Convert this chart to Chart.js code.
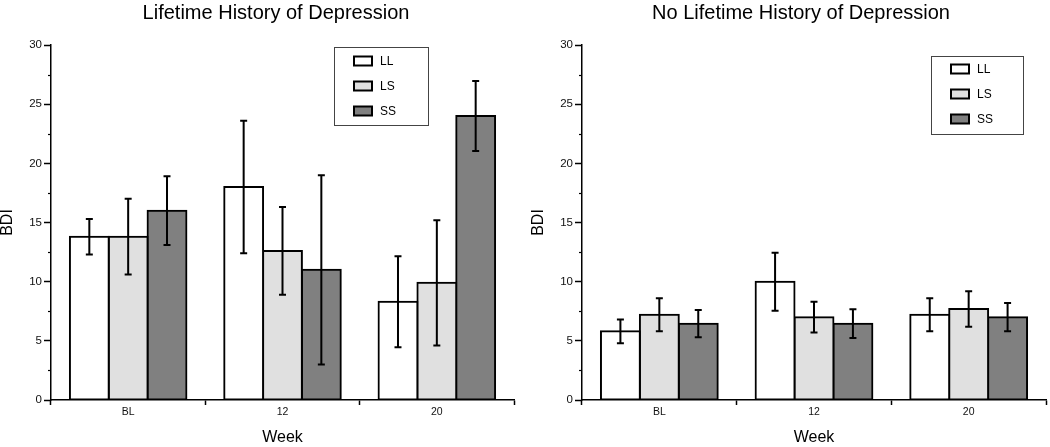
<!DOCTYPE html>
<html><head><meta charset="utf-8">
<script src="https://cdn.jsdelivr.net/npm/chart.js@4.4.1/dist/chart.umd.min.js"></script>
<style>
html,body{margin:0;padding:0;background:#fff;overflow:hidden;width:1050px;height:447px}
.box{position:absolute;top:0;height:447px;width:525px}
#b1{left:0}
#b2{left:525px}
</style></head><body>
<div class="box" id="b1"><canvas id="c1" width="525" height="447"></canvas></div>
<div class="box" id="b2"><canvas id="c2" width="525" height="447"></canvas></div>
<script>
// ---- data ----
const weeks = ['BL', '12', '20'];
const genotypes = ['LL', 'LS', 'SS'];
const yMin = 0, yMax = 30, yStep = 2.5, yLabelStep = 5;

const titleLifetime = 'Lifetime History of Depression';
const titleNoLifetime = 'No Lifetime History of Depression';

// Lifetime history: means and error (half-length of bar)
const lifeLL = [13.8, 18.0, 8.3];
const lifeLLerr = [1.5, 5.6, 3.85];
const lifeLS = [13.8, 12.6, 9.9];
const lifeLSerr = [3.2, 3.7, 5.3];
const lifeSS = [16.0, 11.0, 24.0];
const lifeSSerr = [2.9, 8.0, 2.95];

// No lifetime history
const noLL = [5.8, 10.0, 7.2];
const noLLerr = [1.0, 2.45, 1.4];
const noLS = [7.2, 7.0, 7.7];
const noLSerr = [1.4, 1.3, 1.5];
const noSS = [6.45, 6.45, 7.0];
const noSSerr = [1.15, 1.22, 1.2];

// ---- styles ----
const FONT = "'Liberation Sans', Arial, Helvetica, sans-serif";
const fills = ['#ffffff', '#e0e0e0', '#808080'];
Chart.defaults.font.family = FONT;
Chart.defaults.color = '#111';

const panelTitle = {
  id: 'panelTitle',
  afterDraw(chart, args, o) {
    const ctx = chart.ctx;
    ctx.save();
    ctx.font = '20px ' + FONT;
    ctx.fillStyle = '#000';
    ctx.textAlign = 'center';
    ctx.textBaseline = 'alphabetic';
    ctx.fillText(o.text, o.x, o.y);
    ctx.restore();
  }
};

const errorBars = {
  id: 'errorBars',
  afterDatasetsDraw(chart) {
    const ctx = chart.ctx, ys = chart.scales.y;
    ctx.save();
    ctx.strokeStyle = '#000';
    ctx.lineWidth = 2;
    chart.data.datasets.forEach((ds, i) => {
      const meta = chart.getDatasetMeta(i);
      meta.data.forEach((bar, j) => {
        const v = ds.data[j], e = ds.errors[j];
        const t = ys.getPixelForValue(v + e), b = ys.getPixelForValue(v - e);
        const x = bar.x, c = 3.5;
        ctx.beginPath();
        ctx.moveTo(x, t); ctx.lineTo(x, b);
        ctx.moveTo(x - c, t); ctx.lineTo(x + c, t);
        ctx.moveTo(x - c, b); ctx.lineTo(x + c, b);
        ctx.stroke();
      });
    });
    ctx.restore();
  }
};

const minorTicks = {
  id: 'minorTicks',
  afterDraw(chart) {
    const ctx = chart.ctx, ys = chart.scales.y, x0 = chart.chartArea.left;
    ctx.save();
    ctx.strokeStyle = '#000';
    ctx.lineWidth = 1.2;
    ys.ticks.forEach(t => {
      if (t.value % yLabelStep !== 0) {
        const y = Math.round(ys.getPixelForValue(t.value)) + 0.5;
        ctx.beginPath(); ctx.moveTo(x0 - 3, y); ctx.lineTo(x0, y); ctx.stroke();
      }
    });
    ctx.restore();
  }
};

const boxLegend = {
  id: 'boxLegend',
  afterDraw(chart, args, o) {
    const ctx = chart.ctx;
    ctx.save();
    ctx.fillStyle = '#fff';
    ctx.fillRect(o.x, o.y, o.w, o.h);
    ctx.strokeStyle = '#444';
    ctx.lineWidth = 1;
    ctx.strokeRect(o.x + 0.5, o.y + 0.5, o.w, o.h);
    ctx.font = '12px ' + FONT;
    ctx.textBaseline = 'middle';
    ctx.textAlign = 'left';
    chart.data.datasets.forEach((ds, i) => {
      const cy = o.y + o.first + i * o.gap;
      ctx.fillStyle = ds.backgroundColor;
      ctx.fillRect(o.x + 20, cy - 4.5, 18, 9);
      ctx.strokeStyle = '#000';
      ctx.lineWidth = 2;
      ctx.strokeRect(o.x + 20, cy - 4.5, 18, 9);
      ctx.fillStyle = '#000';
      ctx.fillText(ds.label, o.x + 46, cy + 0.5);
    });
    ctx.restore();
  }
};

function makeChart(id, title, series, errs, cfg) {
  const datasets = genotypes.map((g, i) => ({
    label: g,
    data: series[i],
    errors: errs[i],
    backgroundColor: fills[i],
    borderColor: '#000',
    borderWidth: 2,
    borderSkipped: false,
    inflateAmount: 1,
    categoryPercentage: 0.755,
    barPercentage: 1.0
  }));
  return new Chart(document.getElementById(id), {
    type: 'bar',
    data: { labels: weeks, datasets },
    plugins: [errorBars, minorTicks, boxLegend, panelTitle],
    options: {
      responsive: false,
      animation: false,
      layout: { padding: { top: 45, right: cfg.padRight, bottom: 0, left: 0 } },
      plugins: {
        legend: { display: false },
        tooltip: { enabled: false },
        title: { display: false },
        panelTitle: { text: title, x: 276, y: 18.5 },
        boxLegend: cfg.legend
      },
      scales: {
        x: {
          type: 'category',
          offset: true,
          grid: { offset: true, drawOnChartArea: false, drawTicks: true, tickLength: 5, tickColor: '#000', tickWidth: 1.5 },
          border: { display: true, color: '#000', width: 1.5 },
          ticks: { font: { size: 10.5 }, color: '#111', padding: 1 },
          title: { display: true, text: 'Week', color: '#000', font: { size: 16, lineHeight: 1 }, padding: { top: 0, bottom: 1 } },
          afterFit(s) { s.height = 47; }
        },
        y: {
          min: yMin, max: yMax,
          ticks: {
            stepSize: yStep, autoSkip: false, color: '#111', padding: 2,
            font: { size: 11.5 },
            callback: v => (v % yLabelStep === 0 ? String(v) : '')
          },
          grid: {
            drawOnChartArea: false, drawTicks: true, tickLength: 7, tickWidth: 1.5,
            tickColor: c => (c.tick && c.tick.value % yLabelStep === 0 ? '#000' : 'rgba(0,0,0,0)')
          },
          border: { display: true, color: '#000', width: 1.5 },
          title: { display: true, text: 'BDI', color: '#000', font: { size: 16, lineHeight: 1 }, padding: { top: cfg.yTitlePad, bottom: 0 } },
          afterFit(s) { s.width = cfg.yWidth; }
        }
      }
    }
  });
}

makeChart('c1', titleLifetime, [lifeLL, lifeLS, lifeSS], [lifeLLerr, lifeLSerr, lifeSSerr], {
  padRight: 11, yWidth: 51, yTitlePad: -0.5,
  legend: { x: 334, y: 47, w: 94, h: 78, first: 14, gap: 25 }
});
makeChart('c2', titleNoLifetime, [noLL, noLS, noSS], [noLLerr, noLSerr, noSSerr], {
  padRight: 4, yWidth: 57, yTitlePad: 6,
  legend: { x: 406, y: 56, w: 92, h: 78, first: 13, gap: 25 }
});
</script>
</body></html>
